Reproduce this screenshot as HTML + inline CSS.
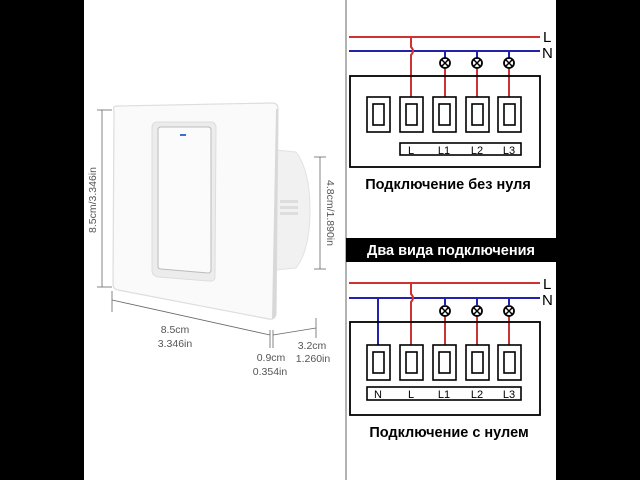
<!DOCTYPE html>
<html><head><style>
html,body{margin:0;padding:0;background:#000;}
svg{display:block;}
text{font-family:"Liberation Sans","DejaVu Sans",sans-serif;}
</style></head><body>
<svg width="640" height="480" viewBox="0 0 640 480" xmlns="http://www.w3.org/2000/svg">
<rect x="0" y="0" width="640" height="480" fill="#000"/>
<rect x="84" y="0" width="472" height="480" fill="#fff"/>
<line x1="346" y1="0" x2="346" y2="480" stroke="#999" stroke-width="1.5"/>

<path d="M276,150 L296,152 Q310,170 310,210 Q310,250 296,268 L276,270 Z" fill="#f1f1f1" stroke="#e2e2e2"/>
<rect x="280" y="200" width="18" height="3" fill="#ddd"/>
<rect x="280" y="206" width="18" height="3" fill="#ddd"/>
<rect x="280" y="212" width="18" height="3" fill="#ddd"/>
<path d="M114,110 Q112,106 118,106 L272,103 Q278,103 278,109 L276,314 Q275,320 269,319 L118,290 Q113,289 113,284 Z" fill="#fafafa" stroke="#ddd" stroke-width="1.2"/>
<path d="M276,109 L278,109 L276,316 L272,319 Z" fill="#d8d8d8"/>
<path d="M152,128 Q152,122 158,122 L210,122 Q216,122 216,128 L215,276 Q215,282 209,281 L158,277 Q152,276 152,270 Z" fill="#ececec" stroke="#ddd"/>
<path d="M158,130 Q158,127 161,127 L208,127 Q211,127 211,130 L211,270 Q211,273 208,273 L161,269 Q158,269 158,266 Z" fill="#fbfbfb" stroke="#bbb"/>
<rect x="180" y="134" width="6" height="2" fill="#3a6fd8"/>

<g stroke="#666" stroke-width="0.8" fill="none">
<line x1="102" y1="110" x2="102" y2="287"/>
<line x1="97" y1="110" x2="112" y2="110"/>
<line x1="97" y1="287" x2="112" y2="287"/>
<line x1="112" y1="291" x2="112" y2="312"/>
<line x1="112" y1="300" x2="270" y2="335"/>
<line x1="270" y1="330" x2="270" y2="348"/>
<line x1="273" y1="330" x2="273" y2="348"/>
<line x1="273" y1="335" x2="316" y2="328"/>
<line x1="316" y1="318" x2="316" y2="338"/>
<line x1="320" y1="157" x2="320" y2="269"/>
<line x1="314" y1="157" x2="326" y2="157"/>
<line x1="314" y1="269" x2="326" y2="269"/>
</g>
<g fill="#555" font-size="10.5">
<text transform="translate(96,200) rotate(-90)" text-anchor="middle">8.5cm/3.346in</text>
<text transform="translate(327,213) rotate(90)" text-anchor="middle">4.8cm/1.890in</text>
<text x="175" y="333" text-anchor="middle">8.5cm</text>
<text x="175" y="347" text-anchor="middle">3.346in</text>
<text x="271" y="361" text-anchor="middle">0.9cm</text>
<text x="270" y="375" text-anchor="middle">0.354in</text>
<text x="312" y="349" text-anchor="middle">3.2cm</text>
<text x="313" y="362" text-anchor="middle">1.260in</text>
</g>

<g>
<line x1="349" y1="37" x2="540" y2="37" stroke="#c33" stroke-width="2"/>
<line x1="349" y1="51" x2="540" y2="51" stroke="#22a" stroke-width="2"/>
<text x="543" y="42" font-size="15" fill="#000">L</text>
<text x="542" y="58" font-size="15" fill="#000">N</text>
<path d="M411,37 L411,47 Q415,51 411,55 L411,97" stroke="#c33" stroke-width="2" fill="none"/>
<g stroke="#22a" stroke-width="2"><line x1="445" y1="51" x2="445" y2="58"/><line x1="477" y1="51" x2="477" y2="58"/><line x1="509" y1="51" x2="509" y2="58"/></g>
<g stroke="#c33" stroke-width="2"><line x1="445" y1="68" x2="445" y2="97"/><line x1="477" y1="68" x2="477" y2="97"/><line x1="509" y1="68" x2="509" y2="97"/></g>
<g stroke="#000" stroke-width="1.8" fill="#fff">
<circle cx="445" cy="63" r="5"/><circle cx="477" cy="63" r="5"/><circle cx="509" cy="63" r="5"/>
</g>
<g stroke="#000" stroke-width="1.5"><path d="M441.5,59.5l7,7M448.5,59.5l-7,7M473.5,59.5l7,7M480.5,59.5l-7,7M505.5,59.5l7,7M512.5,59.5l-7,7"/></g>
<rect x="350" y="76" width="190" height="91" fill="none" stroke="#000" stroke-width="1.8"/>
<g fill="none" stroke="#000" stroke-width="1.6">
<rect x="367" y="97" width="23" height="35"/><rect x="373" y="104" width="11" height="21"/>
<rect x="400" y="97" width="23" height="35"/><rect x="406" y="104" width="11" height="21"/>
<rect x="433" y="97" width="23" height="35"/><rect x="439" y="104" width="11" height="21"/>
<rect x="466" y="97" width="23" height="35"/><rect x="472" y="104" width="11" height="21"/>
<rect x="498" y="97" width="23" height="35"/><rect x="504" y="104" width="11" height="21"/>
<rect x="400" y="143" width="121" height="12"/>
</g>
<g font-size="11" fill="#000" text-anchor="middle">
<text x="411" y="154">L</text><text x="444" y="154">L1</text><text x="477" y="154">L2</text><text x="509" y="154">L3</text>
</g>
<text x="448" y="189" font-size="14.5" font-weight="bold" text-anchor="middle" fill="#000">Подключение без нуля</text>
</g>

<rect x="346" y="238" width="210" height="24" fill="#000"/>
<text x="451" y="255" font-size="14.5" font-weight="bold" text-anchor="middle" fill="#fff">Два вида подключения</text>

<g>
<line x1="349" y1="283" x2="540" y2="283" stroke="#c33" stroke-width="2"/>
<line x1="349" y1="298" x2="540" y2="298" stroke="#22a" stroke-width="2"/>
<text x="543" y="289" font-size="15" fill="#000">L</text>
<text x="542" y="305" font-size="15" fill="#000">N</text>
<line x1="378" y1="298" x2="378" y2="345" stroke="#22a" stroke-width="2"/>
<path d="M411,283 L411,294 Q415,298 411,302 L411,345" stroke="#c33" stroke-width="2" fill="none"/>
<g stroke="#22a" stroke-width="2"><line x1="445" y1="298" x2="445" y2="305"/><line x1="477" y1="298" x2="477" y2="305"/><line x1="509" y1="298" x2="509" y2="305"/></g>
<g stroke="#c33" stroke-width="2"><line x1="445" y1="316" x2="445" y2="345"/><line x1="477" y1="316" x2="477" y2="345"/><line x1="509" y1="316" x2="509" y2="345"/></g>
<g stroke="#000" stroke-width="1.8" fill="#fff">
<circle cx="445" cy="311" r="5"/><circle cx="477" cy="311" r="5"/><circle cx="509" cy="311" r="5"/>
</g>
<g stroke="#000" stroke-width="1.5"><path d="M441.5,307.5l7,7M448.5,307.5l-7,7M473.5,307.5l7,7M480.5,307.5l-7,7M505.5,307.5l7,7M512.5,307.5l-7,7"/></g>
<rect x="350" y="322" width="190" height="93" fill="none" stroke="#000" stroke-width="1.8"/>
<g fill="none" stroke="#000" stroke-width="1.6">
<rect x="367" y="345" width="23" height="35"/><rect x="373" y="352" width="11" height="21"/>
<rect x="400" y="345" width="23" height="35"/><rect x="406" y="352" width="11" height="21"/>
<rect x="433" y="345" width="23" height="35"/><rect x="439" y="352" width="11" height="21"/>
<rect x="466" y="345" width="23" height="35"/><rect x="472" y="352" width="11" height="21"/>
<rect x="498" y="345" width="23" height="35"/><rect x="504" y="352" width="11" height="21"/>
<rect x="367" y="387" width="154" height="13"/>
</g>
<g font-size="11" fill="#000" text-anchor="middle">
<text x="378" y="398">N</text><text x="411" y="398">L</text><text x="444" y="398">L1</text><text x="477" y="398">L2</text><text x="509" y="398">L3</text>
</g>
<text x="449" y="437" font-size="14.5" font-weight="bold" text-anchor="middle" fill="#000">Подключение с нулем</text>
</g>
</svg>
</body></html>
